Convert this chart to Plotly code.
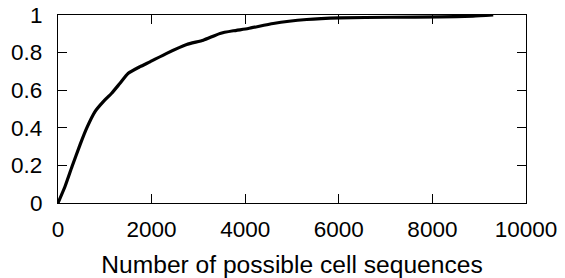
import plotly.graph_objects as go

# Data (CDF of number of possible cell sequences)
num_sequences = [0, 150, 300, 470, 613, 791, 968, 1147, 1325, 1502, 1752, 1966,
                 2323, 2750, 3105, 3462, 3746, 4066, 4600, 5314, 6026, 7094,
                 8162, 8868, 9300]
cdf = [0, 0.088, 0.194, 0.309, 0.398, 0.486, 0.539, 0.584, 0.637, 0.690,
       0.725, 0.751, 0.796, 0.843, 0.866, 0.902, 0.916, 0.928, 0.955, 0.976,
       0.985, 0.988, 0.990, 0.994, 1.0]

x_ticks = [0, 2000, 4000, 6000, 8000, 10000]
x_tick_labels = ["0", "2000", "4000", "6000", "8000", "10000"]
y_ticks = [0, 0.2, 0.4, 0.6, 0.8, 1]
y_tick_labels = ["0", "0.2", "0.4", "0.6", "0.8", "1"]
x_title = "Number of possible cell sequences"

fig = go.Figure()
fig.add_trace(go.Scatter(
    x=num_sequences, y=cdf, mode="lines",
    line=dict(color="black", width=3.2, shape="spline", smoothing=0.5),
    showlegend=False, cliponaxis=False,
))

font = dict(family="Liberation Sans, Arial, Helvetica, sans-serif", color="black")

fig.update_layout(
    width=565, height=278,
    margin=dict(l=58, r=39, t=15, b=75, autoexpand=False),
    paper_bgcolor="white", plot_bgcolor="white",
    font=dict(**font, size=22),
    showlegend=False,
)
fig.update_xaxes(
    range=[0, 10000], tickvals=x_ticks, ticktext=x_tick_labels,
    ticks="inside", ticklen=9, tickwidth=1, tickcolor="black",
    showline=True, linecolor="black", linewidth=1.2, mirror="allticks",
    showgrid=False, zeroline=False, automargin=False,
    tickfont=dict(**font, size=22.5), ticklabelstandoff=6,
    title=dict(text=x_title, font=dict(**font, size=24.6), standoff=15),
)
fig.update_yaxes(
    range=[0, 1], tickvals=y_ticks, ticktext=y_tick_labels,
    ticks="inside", ticklen=9, tickwidth=1, tickcolor="black",
    showline=True, linecolor="black", linewidth=1.2, mirror="allticks",
    showgrid=False, zeroline=False, automargin=False,
    tickfont=dict(**font, size=22.5), ticklabelstandoff=10,
)

fig.write_html(
    "out.html",
    config={"displayModeBar": False},
    post_script="document.body.style.margin='0';document.body.style.padding='0';",
)
